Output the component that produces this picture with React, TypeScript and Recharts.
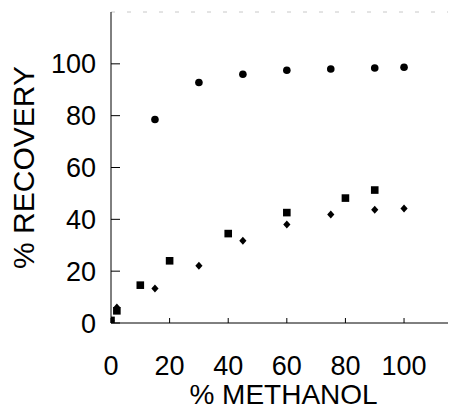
import React from "react";
import { ScatterChart, Scatter, XAxis, YAxis, ReferenceLine } from "recharts";

// % methanol in the eluent
const circleX = [15, 30, 45, 60, 75, 90, 100];
const circleY = [78.5, 92.8, 96, 97.5, 98, 98.4, 98.7];

const squareX = [0, 2, 10, 20, 40, 60, 80, 90];
const squareY = [1, 4.7, 14.6, 24, 34.5, 42.6, 48.2, 51.3];

const diamondX = [0, 2, 15, 30, 45, 60, 75, 90, 100];
const diamondY = [1, 6, 13.3, 22.1, 31.7, 38, 41.9, 43.7, 44.2];

const xTicks = [0, 20, 40, 60, 80, 100];
const yTicks = [0, 20, 40, 60, 80, 100];

const toPoints = (xs: number[], ys: number[]) => xs.map((x, i) => ({ x, y: ys[i] }));

const FONT = "'Liberation Sans', Arial, sans-serif";

const circleShape = (p: any) => <circle cx={p.cx} cy={p.cy} r={3.8} fill="#000" />;
const squareShape = (p: any) => (
  <rect x={p.cx - 3.8} y={p.cy - 3.8} width={7.6} height={7.6} fill="#000" />
);
const diamondShape = (p: any) => (
  <path
    d={`M${p.cx} ${p.cy - 4} L${p.cx + 3.6} ${p.cy} L${p.cx} ${p.cy + 4} L${p.cx - 3.6} ${p.cy} Z`}
    fill="#000"
  />
);

export default function App() {
  return (
    <div style={{ position: "absolute", left: 0, top: 0, background: "#fff" }}>
      <ScatterChart
        width={451}
        height={411}
        margin={{ top: 12, right: 3, left: 0, bottom: 0 }}
        style={{ fontFamily: FONT }}
      >
        <XAxis
          type="number"
          dataKey="x"
          domain={[0, 115]}
          ticks={xTicks}
          allowDataOverflow
          height={88}
          tickSize={-5}
          tickMargin={38}
          stroke="#000"
          tick={{ fill: "#000", fontSize: 27, fontFamily: FONT }}
          label={{
            value: "% METHANOL",
            position: "insideBottom",
            offset: 7,
            dx: 4,
            fill: "#000",
            fontSize: 28,
            fontFamily: FONT,
          }}
        />
        <YAxis
          type="number"
          dataKey="y"
          domain={[0, 120]}
          ticks={yTicks}
          allowDataOverflow
          width={111}
          tickSize={-9}
          tickMargin={24}
          stroke="#000"
          tick={{ fill: "#000", fontSize: 27, fontFamily: FONT }}
          label={{
            value: "% RECOVERY",
            angle: -90,
            position: "insideLeft",
            offset: 0,
            dx: 23,
            fill: "#000",
            fontSize: 30,
            fontFamily: FONT,
            style: { textAnchor: "middle" },
          }}
        />
        <ReferenceLine y={120} stroke="#c8c8c8" strokeDasharray="4 12" />
        <Scatter data={toPoints(squareX, squareY)} shape={squareShape} isAnimationActive={false} />
        <Scatter data={toPoints(diamondX, diamondY)} shape={diamondShape} isAnimationActive={false} />
        <Scatter data={toPoints(circleX, circleY)} shape={circleShape} isAnimationActive={false} />
      </ScatterChart>
    </div>
  );
}
